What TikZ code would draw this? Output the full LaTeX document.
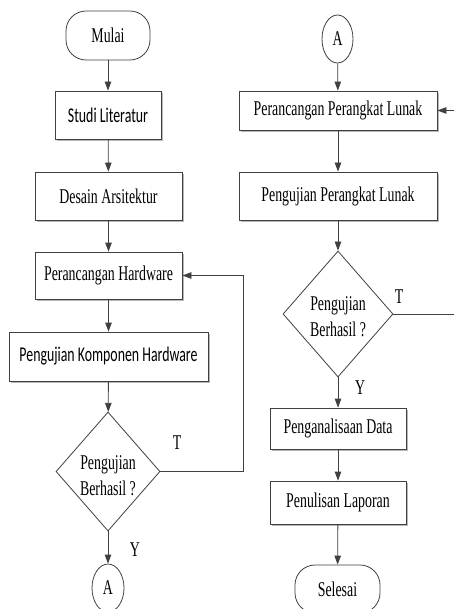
\documentclass[tikz,border=0pt]{standalone}
\usepackage{fontspec}
\setmainfont{Liberation Serif}[FakeStretch=0.66]
\newfontfamily\calfont{Carlito}[FakeStretch=0.66]
\usetikzlibrary{shapes.geometric,arrows.meta,shadows}
\begin{document}
\begin{tikzpicture}[x=1pt,y=-1pt,
  every node/.style={font=\fontsize{21}{26}\selectfont},
  ln/.style={draw=black!75, line width=0.8pt},
  arr/.style={ln, -{Triangle[length=9pt,width=6.5pt]}},
  shad/.style={drop shadow={shadow xshift=1.6pt, shadow yshift=-1.6pt, fill=black!35, opacity=0.8}},
  procbox/.style={rectangle, ln, fill=white, shad, inner sep=0pt},
  term/.style={rectangle, rounded corners=20pt, ln, fill=white, inner sep=0pt, minimum width=84pt, minimum height=49pt},
  conn/.style={ellipse, ln, fill=white, inner sep=0pt, minimum width=31pt, minimum height=48pt},
  dia/.style={diamond, ln, fill=white, inner sep=0pt},
  lbl/.style={inner sep=0pt}
]
\useasboundingbox (0,0) rectangle (454,609);

% left column
\node[term] (mulai) at (108,35.5) {Mulai};
\node[procbox, minimum width=106pt, minimum height=48pt] (studi) at (108,115) {\calfont Studi Literatur};
\node[procbox, minimum width=147pt, minimum height=48pt] (desain) at (108.5,196) {Desain Arsitektur};
\node[procbox, minimum width=147pt, minimum height=47pt] (perhw) at (108.5,275.5) {Perancangan Hardware};
\node[procbox, minimum width=199pt, minimum height=49pt] (ujihw) at (108.5,356.5) {\calfont Pengujian Komponen Hardware};
\node[dia, minimum width=104pt, minimum height=119pt] (d1) at (108,471.5) {};
\node[lbl, align=center] (d1t) at (108,476) {Pengujian\\Berhasil ?};
\node[conn, minimum width=32pt] (a1) at (108,588) {A};

% right column
\node[conn] (a2) at (337.5,39) {A};
\node[procbox, minimum width=198pt, minimum height=39pt] (perpl) at (338,110.5) {Perancangan Perangkat Lunak};
\node[procbox, minimum width=198pt, minimum height=48pt] (ujipl) at (338,196) {Pengujian Perangkat Lunak};
\node[dia, minimum width=110pt, minimum height=126pt] (d2) at (338,314) {};
\node[lbl, align=center] (d2t) at (338,317) {Pengujian\\Berhasil ?};
\node[procbox, minimum width=136pt, minimum height=41pt] (anal) at (338,428.5) {Penganalisaan Data};
\node[procbox, minimum width=136pt, minimum height=43pt] (lapor) at (338,502.5) {Penulisan Laporan};
\node[term, minimum width=85pt, minimum height=48pt] (selesai) at (337.5,589) {Selesai};

% labels
\node[lbl] (t1) at (177,443) {T};
\node[lbl] (y1) at (135,550) {Y};
\node[lbl] (t2) at (399,297) {T};
\node[lbl] (y2) at (360,388) {Y};

% connectors left
\draw[arr] (mulai) -- (studi);
\draw[arr] (studi) -- (desain);
\draw[arr] (desain) -- (perhw);
\draw[arr] (perhw) -- (ujihw);
\draw[arr] (ujihw) -- (d1);
\draw[arr] (d1) -- (a1);
\coordinate (c1) at (243.5,275.5);
\draw[arr] (d1.east) -| (c1) -- (perhw.east);

% connectors right
\draw[arr] (a2) -- (perpl);
\draw[arr] (perpl) -- (ujipl);
\draw[arr] (ujipl) -- (d2);
\draw[arr] (d2) -- (anal);
\draw[arr] (anal) -- (lapor);
\draw[arr] (lapor) -- (selesai);
\coordinate (e2) at (455,314);
\draw[ln] (d2.east) -- (e2);
\coordinate (e1) at (455,110.5);
\draw[arr] (e1) -- (perpl.east);
\end{tikzpicture}
\end{document}
